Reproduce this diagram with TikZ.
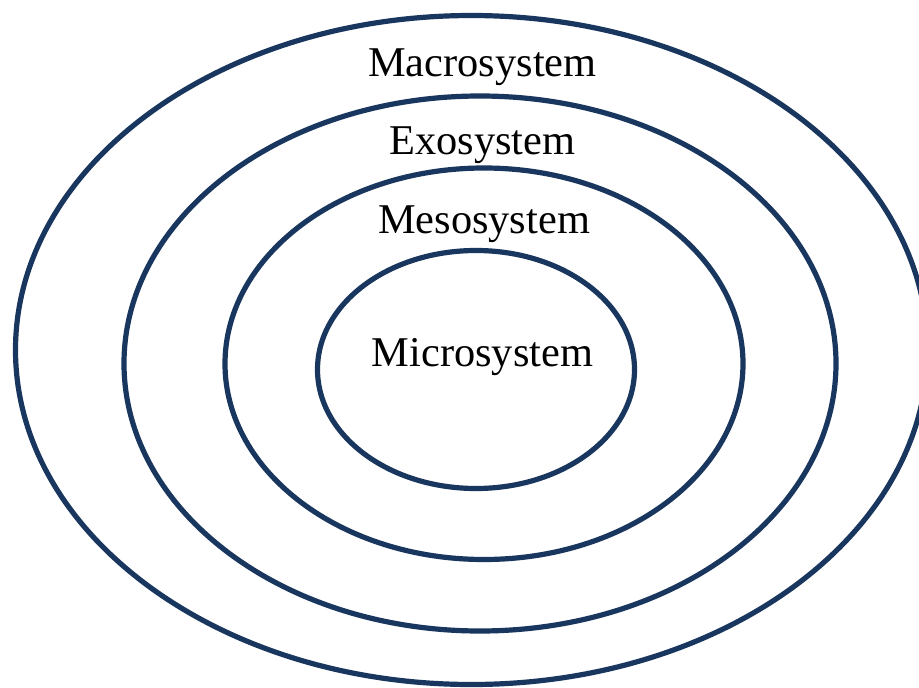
\documentclass[tikz,border=0pt]{standalone}
\usepackage{fontspec}
\setmainfont{Liberation Serif}
\definecolor{ringblue}{RGB}{24,54,94}
\begin{document}
\begin{tikzpicture}[x=1pt,y=-1pt,
  ring/.style={draw=ringblue,line width=5.2pt},
  label/.style={anchor=base,inner sep=0pt,font=\fontsize{42.4}{50}\selectfont}]
\useasboundingbox (0,0) rectangle (919,688);
\clip (0,0) rectangle (919,688);
\fill[white] (0,0) rectangle (919,688);
\draw[ring] (471.5,350) ellipse [x radius=456, y radius=334.5];
\draw[ring] (480,363.5) ellipse [x radius=356, y radius=267.5];
\draw[ring] (484,363.75) ellipse [x radius=259, y radius=195.75];
\draw[ring] (476,369.5) ellipse [x radius=158.5, y radius=119];
\node[label] (macro) at (482.5,76) {Macrosystem};
\node[label] (exo) at (482.5,154) {Exosystem};
\node[label] (meso) at (484,233) {Mesosystem};
\node[label] (micro) at (482.5,366) {Microsystem};
\end{tikzpicture}
\end{document}
